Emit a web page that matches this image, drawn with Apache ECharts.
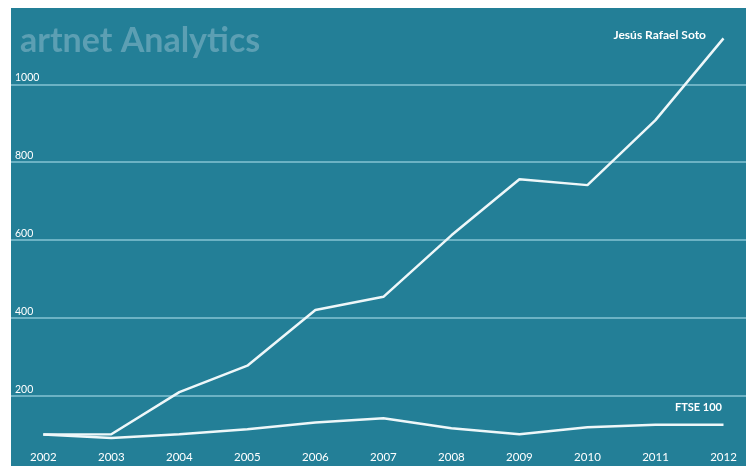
<!DOCTYPE html>
<html>
<head>
<meta charset="utf-8">
<script src="https://cdn.jsdelivr.net/npm/echarts@6/dist/echarts.min.js"></script>
<style>
html,body{margin:0;padding:0;background:#ffffff;width:746px;height:466px;overflow:hidden;}
#bg{position:absolute;left:11px;top:8px;width:735px;height:458px;background:#237f97;}
#c{position:absolute;left:11px;top:0px;width:735px;height:490px;}
</style>
</head>
<body>
<div id="bg"></div>
<div id="c"></div>
<script>
const years = ['2002','2003','2004','2005','2006','2007','2008','2009','2010','2011','2012'];
const sotoValues = [100, 101, 209, 277, 420, 454, 612, 756, 741, 908, 1118];
const ftseValues = [100, 91, 101, 114, 131, 142, 116, 101, 119, 125, 125];
const seriesNames = ['Jesús Rafael Soto', 'FTSE 100'];
const titleText = 'artnet Analytics';

const lineColor = '#eef7f9';
const gridColor = '#86c3d3';
const font = 'Lato, "Open Sans", sans-serif';

const chart = echarts.init(document.getElementById('c'), null, {renderer: 'canvas'});
const gridTop = 6.5, gridBottom = 16.5;
chart.setOption({
  animation: false,
  backgroundColor: 'transparent',
  textStyle: {fontFamily: font},
  grid: [
    {left: 32.3, right: 22.5, top: gridTop, bottom: gridBottom},
    {left: 0, right: 0, top: gridTop, bottom: gridBottom}
  ],
  xAxis: [
    {
      type: 'category', gridIndex: 0, data: years, boundaryGap: false,
      axisLine: {show: false}, axisTick: {show: false}, splitLine: {show: false},
      axisLabel: {inside: true, margin: 10.5, color: '#ffffff', fontSize: 11.5, fontFamily: font}
    },
    {type: 'value', gridIndex: 1, min: 0, max: 1, show: false}
  ],
  yAxis: [
    {
      type: 'value', gridIndex: 0, min: 0, max: 1200, interval: 200,
      axisLine: {show: false}, axisTick: {show: false}, splitLine: {show: false},
      axisLabel: {
        align: 'left', verticalAlign: 'bottom', margin: 28.3, color: '#ffffff',
        fontSize: 10.5, fontFamily: font, padding: [0, 0, 1, 0],
        showMinLabel: false, showMaxLabel: false,
        formatter: v => (v === 0 || v === 1200) ? '' : String(v)
      }
    },
    {
      type: 'value', gridIndex: 1, min: 0, max: 1200, interval: 200,
      axisLine: {show: false}, axisTick: {show: false}, axisLabel: {show: false},
      splitLine: {show: true, showMinLine: false, showMaxLine: false, lineStyle: {color: gridColor, width: 1.5}}
    }
  ],
  graphic: [
    {type: 'text', x: 9, y: 41, z: 1, style: {text: titleText, fill: '#5c9fb3', font: 'bold 34px ' + font, align: 'left', verticalAlign: 'middle'}},
    {type: 'text', x: 695, y: 35, z: 10, style: {text: seriesNames[0], fill: '#ffffff', font: 'bold 12px ' + font, align: 'right', verticalAlign: 'middle'}},
    {type: 'text', x: 711, y: 407, z: 10, style: {text: seriesNames[1], fill: '#ffffff', font: 'bold 11px ' + font, align: 'right', verticalAlign: 'middle'}}
  ],
  series: [
    {
      name: seriesNames[0], type: 'line', xAxisIndex: 0, yAxisIndex: 0, data: sotoValues,
      showSymbol: false, symbol: 'none', lineStyle: {color: lineColor, width: 2.5}, z: 3
    },
    {
      name: seriesNames[1], type: 'line', xAxisIndex: 0, yAxisIndex: 0, data: ftseValues,
      showSymbol: false, symbol: 'none', lineStyle: {color: lineColor, width: 2.5}, z: 3
    }
  ]
});
</script>
</body>
</html>
